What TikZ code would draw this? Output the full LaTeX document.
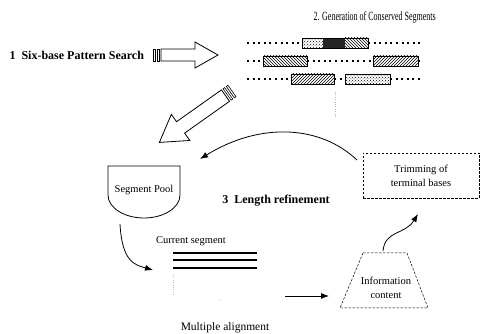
\documentclass[tikz,border=0pt]{standalone}
\usepackage{fontspec}
\setmainfont{Liberation Serif}
\usetikzlibrary{arrows.meta,positioning,shapes.geometric,patterns}

\tikzset{
  seqdots/.style={line width=2pt,dash pattern=on 2pt off 3.6pt},
  segbox/.style={draw,line width=0.8pt},
  blockarrow/.style={draw,line width=0.8pt,line join=miter},
  fineframe/.style={draw,line width=0.5pt,dash pattern=on 2.5pt off 1.5pt},
  flow/.style={line width=0.8pt,-{Latex[length=8pt,width=6pt]}},
  every node/.style={font=\fontsize{10.5}{14}\selectfont}
}

\begin{document}
\begin{tikzpicture}[x=1pt,y=-1pt]
  \useasboundingbox (0,0) rectangle (480,334);

  % step labels
  \node [anchor=west,font=\bfseries\fontsize{12}{14}\selectfont] at (6,55) (step1) {1\ \ Six-base Pattern Search};
  \node [anchor=west] at (310,17) (step2) {\scalebox{0.64}[1]{\fontsize{12.5}{14}\selectfont 2. Generation of Conserved Segments}};
  \node [font=\bfseries\fontsize{12}{14}\selectfont] at (276,201) (step3) {3\ \ Length refinement};

  % hollow block arrows
  \begin{scope}[shift={(153,55)}]
    \draw [blockarrow,line width=0.6pt] (0,-6) rectangle (2,6) (4,-6) rectangle (6,6);
    \draw [blockarrow] (8,-6) -- (42,-6) -- (42,-13) -- (65,0) -- (42,13) -- (42,6) -- (8,6) -- cycle;
  \end{scope}
  \begin{scope}[shift={(232,91)},rotate=215.3]
    \draw [blockarrow,line width=0.6pt] (0,-7) rectangle (2,7) (4,-7) rectangle (6,7);
    \draw [blockarrow] (8,-7) -- (63,-7) -- (63,-16) -- (89,0) -- (63,16) -- (63,7) -- (8,7) -- cycle;
  \end{scope}

  % conserved segments
  \foreach \y/\a/\b in {43/247/302, 43/368/420, 61/247/263, 61/307/373, 61/418/421,
                        79/247/291, 79/334/345, 79/390/420}{
    \draw [seqdots] (\a,\y) -- (\b,\y);
  }
  \fill [pattern=crosshatch dots] (302,38) rectangle (323,48);
  \fill [black!85] (323,38) rectangle (345,48);
  \fill [pattern=north west lines] (345,38) rectangle (368,48);
  \draw [segbox] (302,38) rectangle (368,48);
  \draw [segbox,pattern=north west lines] (263,56) rectangle (307,66);
  \draw [segbox,pattern=north east lines] (373,56) rectangle (418,66);
  \draw [segbox,pattern=north east lines] (291,74) rectangle (334,84);
  \draw [segbox,pattern=crosshatch dots] (345,74) rectangle (390,84);
  \draw [gray!60,dotted] (335,92) -- (335,118);

  % segment pool
  \draw [line width=0.8pt] (108,166) -- (180,166) -- (180,195)
    arc [start angle=0,end angle=180,x radius=36,y radius=23] -- cycle;
  \node at (144,190) (pool) {Segment Pool};

  % current segment and alignment
  \node at (191,241) (cur) {Current segment};
  \foreach \y in {253,260,268}{
    \draw [line width=2.2pt] (173,\y) -- (257,\y);
  }
  \draw [gray!50,dotted] (173,275) -- (173,295);
  \fill [gray!60] (220,300) circle (0.6);
  \node [font=\fontsize{11.5}{14}\selectfont] at (225,328) (malign) {Multiple alignment};

  % information content and trimming
  \draw [fineframe] (363,253) -- (407,253) -- (428,308) -- (340,308) -- cycle;
  \node [align=center] at (386,288) (info) {Information\\content};
  \node [fineframe,minimum width=116,minimum height=45,align=center] at (421,175.5) (trim) {Trimming of\\terminal bases};

  % connectors
  \coordinate (poolout) at (120,224);
  \coordinate (stackin) at (153,270);
  \coordinate (alignout) at (285,296);
  \coordinate (infoin) at (329,296);
  \coordinate (infoout) at (383,251);
  \coordinate (trimin) at (418,214);
  \coordinate (trimout) at (357,160);
  \coordinate (poolin) at (200,159);

  \draw [flow] (poolout) .. controls (122,262) and (135,265) .. (stackin);
  \draw [flow] (alignout) -- (infoin);
  \draw [flow] (infoout) .. controls (385,230) and (405,235) .. (trimin);
  \draw [flow] (trimout) .. controls (320,125) and (260,122) .. (poolin);

\end{tikzpicture}
\end{document}
